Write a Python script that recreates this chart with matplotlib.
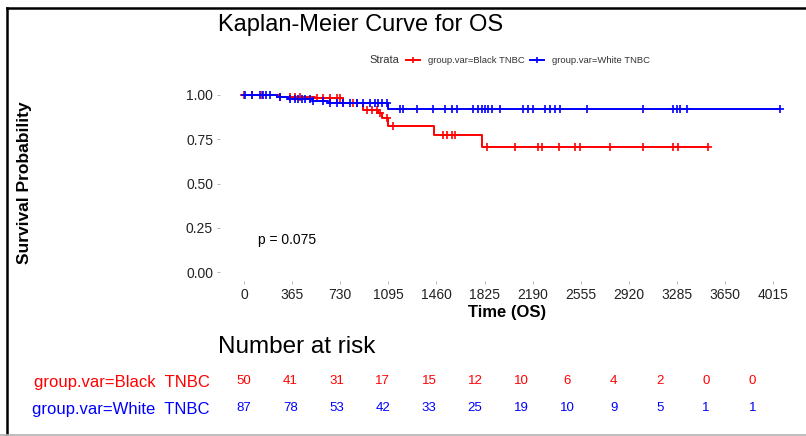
import numpy as np
import matplotlib.pyplot as plt
from matplotlib.lines import Line2D

plt.rcParams['font.family'] = ['Liberation Sans', 'DejaVu Sans']

# --- KM step data ---
black_times = [0, 270, 540, 750, 905, 1015, 1045, 1090, 1440, 1805]
black_surv = [1.0, 0.99, 0.98, 0.953, 0.915, 0.895, 0.868, 0.825, 0.772, 0.708]
black_end = 3521
black_censor = [0, 61, 137, 273, 349, 387, 425, 554, 599, 653, 706, 728, 751,
                827, 857, 933, 971, 1009, 1032, 1085, 1131, 1510, 1540, 1578,
                1601, 1844, 2056, 2231, 2261, 2390, 2512, 2550, 2777, 3028,
                3255, 3293, 3521]

white_times = [0, 250, 330, 520, 640, 1090]
white_surv = [1.0, 0.988, 0.977, 0.965, 0.953, 0.922]
white_end = 4067
white_censor = [8, 61, 121, 144, 167, 197, 273, 349, 387, 410, 440, 463, 501,
                524, 599, 653, 706, 751, 804, 857, 903, 956, 994, 1017, 1047,
                1085, 1184, 1206, 1313, 1434, 1525, 1578, 1616, 1738, 1776,
                1806, 1829, 1851, 1882, 1943, 2117, 2155, 2193, 2284, 2322,
                2360, 2398, 2603, 3028, 3255, 3286, 3308, 3361, 4067]

x_ticks = [0, 365, 730, 1095, 1460, 1825, 2190, 2555, 2920, 3285, 3650, 4015]
y_ticks = [0.0, 0.25, 0.5, 0.75, 1.0]

groups = ['group.var=Black TNBC', 'group.var=White TNBC']
risk_black = [50, 41, 31, 17, 15, 12, 10, 6, 4, 2, 0, 0]
risk_white = [87, 78, 53, 42, 33, 25, 19, 10, 9, 5, 1, 1]

RED = '#FF0000'
BLUE = '#0000FF'


def surv_at(times, surv, t):
    idx = np.searchsorted(times, t, side='right') - 1
    return np.array(surv)[idx]


W, H = 806, 436
fig = plt.figure(figsize=(W / 100, H / 100), dpi=100)


def fx(px):
    return px / W


def fy(py):
    return 1 - py / H


# main KM panel
ax = fig.add_axes([fx(220), fy(281), (804 - 220) / W, (281 - 86) / H])
for times, surv, end, cens, col in [
        (black_times, black_surv, black_end, black_censor, RED),
        (white_times, white_surv, white_end, white_censor, BLUE)]:
    xs = list(times) + [end]
    ys = list(surv) + [surv[-1]]
    ax.step(xs, ys, where='post', color=col, lw=1.4)
    ax.plot(cens, surv_at(times, surv, cens), ls='none', marker='+',
            ms=5.5, mew=1.2, color=col)

ax.set_xlim(-183, 4250)
ax.set_ylim(-0.05, 1.05)
ax.set_xticks(x_ticks)
ax.set_yticks(y_ticks)
ax.set_yticklabels(['0.00', '0.25', '0.50', '0.75', '1.00'])
ax.tick_params(axis='both', length=2, width=0.6, color='#AAAAAA',
               labelsize=10, labelcolor='#222222', pad=3)
for s in ax.spines.values():
    s.set_visible(False)

ax.text(106, 0.18, 'p = 0.075', fontsize=10, ha='left', va='center')

fig.text(fx(218), fy(25), 'Kaplan-Meier Curve for OS', fontsize=17,
         ha='left', va='center')
fig.text(fx(507), fy(312), 'Time (OS)', fontsize=12, fontweight='bold',
         ha='center', va='center')
fig.text(fx(25), fy(183), 'Survival Probability', fontsize=12.5,
         fontweight='bold', rotation=90, ha='center', va='center')

# legend drawn by hand (ggplot style: title inline on the left)
fig.text(fx(369), fy(60), 'Strata', fontsize=8, color='#333333',
         ha='left', va='center')
for x0, col, label in [(406, RED, groups[0]), (530, BLUE, groups[1])]:
    fig.add_artist(Line2D([fx(x0), fx(x0 + 14)], [fy(60), fy(60)],
                          color=col, lw=1.4))
    fig.add_artist(Line2D([fx(x0 + 7)], [fy(60)], color=col, marker='+',
                          ms=5, mew=1.2, ls='none'))
    fig.text(fx(x0 + 22), fy(60), label, fontsize=6.8, color='#333333',
             ha='left', va='center')

fig.text(fx(218), fy(347), 'Number at risk', fontsize=17.5,
         ha='left', va='center')

# risk table
tax = fig.add_axes([fx(221), fy(421), (782 - 221) / W, (421 - 368) / H])
tax.set_xlim(-183, 4250)
tax.set_ylim(0.5, 2.5)
for i, t in enumerate(x_ticks):
    tax.text(t, 2, str(risk_black[i]), color=RED, fontsize=9.5,
             ha='center', va='center')
    tax.text(t, 1, str(risk_white[i]), color=BLUE, fontsize=9.5,
             ha='center', va='center')
tax.set_xticks([])
tax.set_yticks([2, 1])
tax.set_yticklabels([g.replace(' ', '  ') for g in groups], fontsize=12)
tax.get_yticklabels()[0].set_color(RED)
tax.get_yticklabels()[1].set_color(BLUE)
tax.tick_params(axis='y', length=0, pad=8)
for s in tax.spines.values():
    s.set_visible(False)

# outer frame
fig.add_artist(Line2D([fx(7), fx(7)], [fy(8), fy(434)],
                      color='black', lw=1.8))
fig.add_artist(Line2D([fx(7), 1], [fy(8), fy(8)],
                      color='black', lw=1.8))
fig.add_artist(Line2D([0, 1], [fy(434.5), fy(434.5)],
                      color='#B0B0B0', lw=1.2))

fig.savefig('out.png', dpi=100)
